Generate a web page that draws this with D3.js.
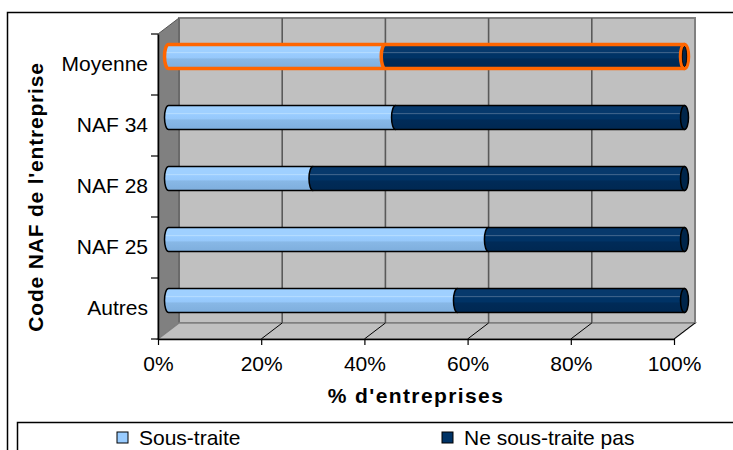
<!DOCTYPE html>
<html>
<head>
<meta charset="utf-8">
<script src="https://cdn.jsdelivr.net/npm/d3@7"></script>
<style>
  html, body { margin: 0; padding: 0; background: #fff; }
  svg, svg text { font-family: 'Liberation Sans', Arial, sans-serif; }
</style>
</head>
<body>
<svg id="chart" width="733" height="450"></svg>
<script>
// Categories listed top to bottom
const categories = ["Moyenne", "NAF 34", "NAF 28", "NAF 25", "Autres"];
// Share of firms (%) per category
const sousTraite   = [42, 44, 28, 62, 56];
const neSousTraite = [58, 56, 72, 38, 44];
const seriesNames  = ["Sous-traite", "Ne sous-traite pas"];
const seriesColors = ["#99ccff", "#003366"];
const xTicks = [0, 20, 40, 60, 80, 100];
const highlighted = "Moyenne";

const FONT = "'Liberation Sans', Arial, sans-serif";
const svg = d3.select("#chart");
const W = 733, H = 450;

// Front plane of the 3-D plot box and its depth offset
const front = { left: 158, right: 674, top: 34, bottom: 339 };
const depth = { dx: 21, dy: 16 };

const x = d3.scaleLinear().domain([0, 100]).range([front.left, front.right]);
const y = d3.scaleBand().domain(categories).range([front.top, front.bottom]).paddingInner(0);

// Gradients giving the cylinders their rounded shading
const defs = svg.append("defs");
function cylGrad(id, stops) {
  const g = defs.append("linearGradient").attr("id", id)
    .attr("x1", 0).attr("y1", 0).attr("x2", 0).attr("y2", 1);
  stops.forEach(([o, c]) => g.append("stop").attr("offset", o).attr("stop-color", c));
}
cylGrad("gLight", [[0, "#9fd0ff"], [0.3, "#9fd0ff"], [0.34, "#b8deff"], [0.38, "#99ccff"],
                   [0.56, "#96c8fa"], [0.6, "#88b8e6"], [1, "#7eaedd"]]);
cylGrad("gDark", [[0, "#07396c"], [0.3, "#07396c"], [0.34, "#46698f"], [0.38, "#003366"],
                  [0.56, "#003366"], [0.6, "#002b58"], [1, "#002852"]]);

// Outer chart frame
svg.append("rect").attr("x", 7.5).attr("y", 12.5).attr("width", W + 20).attr("height", H + 20)
  .attr("fill", "none").attr("stroke", "#000").attr("stroke-width", 1.5);

// Walls and floor
const bx0 = front.left + depth.dx, bx1 = front.right + depth.dx;
const by0 = front.top - depth.dy,  by1 = front.bottom - depth.dy;

svg.append("rect").attr("x", bx0).attr("y", by0).attr("width", bx1 - bx0).attr("height", by1 - by0)
  .attr("fill", "#c0c0c0").attr("stroke", "#808080").attr("stroke-width", 2);

svg.append("polygon")
  .attr("points", [[front.left, front.top], [bx0, by0], [bx0, by1], [front.left, front.bottom]].join(" "))
  .attr("fill", "#808080").attr("stroke", "#555").attr("stroke-width", 1);

svg.append("polygon")
  .attr("points", [[front.left, front.bottom], [bx0, by1], [bx1, by1], [front.right, front.bottom]].join(" "))
  .attr("fill", "#c0c0c0").attr("stroke", "#808080").attr("stroke-width", 1.5);

// Gridlines on the back wall and across the floor
const inner = xTicks.filter(t => t > 0 && t < 100);
svg.append("g").selectAll("line").data(inner).join("line")
  .attr("x1", d => x(d) + depth.dx).attr("x2", d => x(d) + depth.dx)
  .attr("y1", by0).attr("y2", by1)
  .attr("stroke", "#5a5a5a").attr("stroke-width", 1.6);
svg.append("g").selectAll("line").data(xTicks.filter(t => t > 0)).join("line")
  .attr("x1", d => x(d)).attr("y1", front.bottom)
  .attr("x2", d => x(d) + depth.dx).attr("y2", by1)
  .attr("stroke", "#000").attr("stroke-width", 1);

// Stacked cylinders, placed at mid-depth
const mx = depth.dx / 2, my = -depth.dy / 2;
const halfH = 12, capR = 4;
const rows = categories.map((c, i) => ({
  cat: c,
  segs: [
    { s: 0, v0: 0, v1: sousTraite[i] },
    { s: 1, v0: sousTraite[i], v1: sousTraite[i] + neSousTraite[i] }
  ]
}));

function bodyPath(xa, xb, cy) {
  return `M${xa},${cy - halfH} L${xb},${cy - halfH} L${xb},${cy + halfH} L${xa},${cy + halfH}` +
         ` A${capR},${halfH} 0 0 1 ${xa},${cy - halfH} Z`;
}

const barG = svg.append("g");
rows.forEach(r => {
  const cy = y(r.cat) + y.bandwidth() / 2 + my;
  const hi = r.cat === highlighted;
  const stroke = hi ? "#ff6600" : "#000";
  const sw = hi ? 3.5 : 1.5;
  r.segs.forEach(sg => {
    barG.append("path")
      .attr("d", bodyPath(x(sg.v0) + mx, x(sg.v1) + mx, cy))
      .attr("fill", sg.s === 0 ? "url(#gLight)" : "url(#gDark)")
      .attr("stroke", stroke).attr("stroke-width", sw).attr("stroke-linejoin", "round");
  });
  const last = r.segs[r.segs.length - 1];
  barG.append("ellipse")
    .attr("cx", x(last.v1) + mx).attr("cy", cy).attr("rx", capR).attr("ry", halfH)
    .attr("fill", "#00254a").attr("stroke", stroke).attr("stroke-width", sw);
  if (hi) {
    barG.append("ellipse")
      .attr("cx", x(last.v1) + mx).attr("cy", cy).attr("rx", capR - 1.8).attr("ry", halfH - 2)
      .attr("fill", "#00254a").attr("stroke", "#000").attr("stroke-width", 0.8);
  }
});

// X axis
const xAxis = svg.append("g").attr("transform", `translate(0,${front.bottom})`)
  .call(d3.axisBottom(x).tickValues(xTicks).tickFormat(d => d + "%").tickSize(6).tickSizeOuter(0));
xAxis.attr("font-family", FONT);
xAxis.select(".domain").attr("stroke", "#000").attr("stroke-width", 1.5);
xAxis.selectAll(".tick line").attr("stroke", "#000").attr("stroke-width", 1.2);
xAxis.selectAll(".tick text").attr("font-size", 21).attr("fill", "#000")
  .attr("y", 0).attr("dy", "32px");

// Y axis: labels at band centres, tick marks at band edges
const yAxis = svg.append("g").attr("transform", `translate(${front.left},0)`)
  .call(d3.axisLeft(y).tickSize(0).tickPadding(10));
yAxis.attr("font-family", FONT);
yAxis.select(".domain").attr("stroke", "#000").attr("stroke-width", 1.5);
yAxis.selectAll(".tick text").attr("font-size", 21).attr("fill", "#000").attr("dy", "0.3em");
const edges = categories.map(c => y(c)).concat([y.range()[1]]);
svg.append("g").selectAll("line").data(edges).join("line")
  .attr("x1", front.left - 7).attr("x2", front.left)
  .attr("y1", d => d).attr("y2", d => d)
  .attr("stroke", "#000").attr("stroke-width", 1.2);

// Axis titles
svg.append("text").attr("x", (front.left + front.right) / 2).attr("y", 403)
  .attr("text-anchor", "middle").attr("font-size", 21).attr("font-weight", "bold")
  .attr("font-family", FONT).attr("letter-spacing", "1.4px").text("% d'entreprises");
svg.append("text").attr("transform", "translate(43,197) rotate(-90)")
  .attr("text-anchor", "middle").attr("font-size", 21).attr("font-weight", "bold")
  .attr("font-family", FONT).attr("letter-spacing", "0.8px").text("Code NAF de l'entreprise");

// Legend
svg.append("rect").attr("x", 17.5).attr("y", 422.5).attr("width", W).attr("height", 60)
  .attr("fill", "#fff").attr("stroke", "#000").attr("stroke-width", 1.5);
const legendX = [117, 442];
const lg = svg.append("g").selectAll("g").data(seriesNames).join("g")
  .attr("transform", (d, i) => `translate(${legendX[i]},432)`);
lg.append("rect").attr("width", 11).attr("height", 11)
  .attr("fill", (d, i) => seriesColors[i]).attr("stroke", "#000").attr("stroke-width", 1);
lg.append("text").attr("x", 22).attr("y", 13).attr("font-size", 21).attr("fill", "#000")
  .attr("font-family", FONT).text(d => d);
</script>
</body>
</html>
